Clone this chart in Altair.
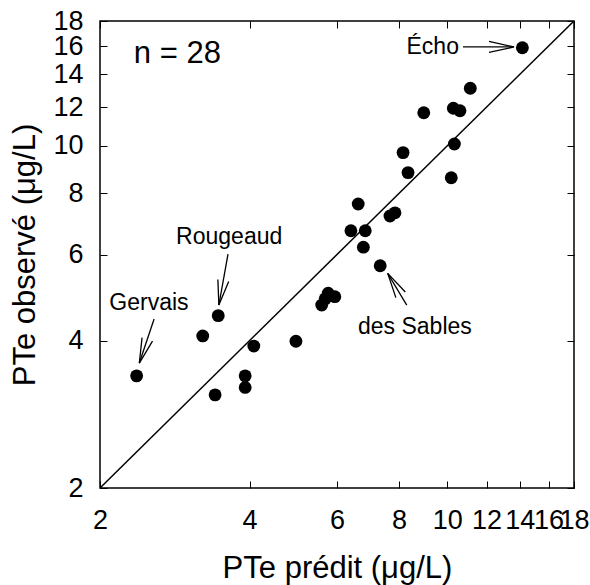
import math
import altair as alt
import pandas as pd

# ---- data ----
pred = [14.17, 11.13, 8.97, 10.29, 10.61, 10.34, 10.19, 8.15, 8.34, 6.62,
        7.67, 7.85, 6.40, 6.84, 6.78, 7.33, 5.76, 5.94, 5.59, 5.68,
        4.96, 2.37, 3.46, 3.22, 4.08, 3.92, 3.92, 3.41]
obs = [15.87, 13.12, 11.69, 11.94, 11.80, 10.09, 8.61, 9.69, 8.82, 7.61,
       7.19, 7.30, 6.71, 6.71, 6.21, 5.69, 5.00, 4.92, 4.73, 4.87,
       3.99, 3.39, 4.50, 4.09, 3.90, 3.39, 3.21, 3.10]

tick_values = [2, 4, 6, 8, 10, 12, 14, 16, 18]
diag_x = [2, 18]
diag_y = [2, 18]

ann_labels = ["Écho", "Rougeaud", "Gervais", "des Sables"]
ann_text_x = [10.56, 3.64, 2.51, 8.61]
ann_text_y = [15.93, 6.52, 4.78, 4.27]
ann_align = ["right", "center", "center", "center"]
arrow_x0 = [10.76, 3.62, 2.57, 8.29]
arrow_y0 = [15.93, 6.01, 4.43, 4.73]
arrow_x1 = [13.63, 3.47, 2.40, 7.59]
arrow_y1 = [15.93, 4.73, 3.60, 5.49]

n_label = ["n = 28"]
n_x = [2.34]
n_y = [14.79]

# ---- layout ----
W, H = 474, 467
FONT = "Liberation Sans"
LO, HI = 2, 18


def px(v):
    return W * math.log(v / LO) / math.log(HI / LO)


def py(v):
    return H * (1 - math.log(v / LO) / math.log(HI / LO))


angles = []
for a, b, c, d in zip(arrow_x0, arrow_y0, arrow_x1, arrow_y1):
    dx = px(c) - px(a)
    dy = py(d) - py(b)
    angles.append(math.degrees(math.atan2(dx, -dy)) % 360)

pts = pd.DataFrame({"pred": pred, "obs": obs})
diag = pd.DataFrame({"x": diag_x, "y": diag_y})
ann = pd.DataFrame({"label": ann_labels, "tx": ann_text_x, "ty": ann_text_y,
                    "align": ann_align})
arr = pd.DataFrame({"x0": arrow_x0, "y0": arrow_y0, "x1": arrow_x1,
                    "y1": arrow_y1, "ang": angles})
ntxt = pd.DataFrame({"t": n_label, "x": n_x, "y": n_y})

xs = alt.Scale(type="log", domain=[LO, HI], nice=False, zero=False)
ys = alt.Scale(type="log", domain=[LO, HI], nice=False, zero=False)

common_axis = dict(values=tick_values, tickSize=7, offset=-7, domain=False,
                   grid=False, tickColor="black", tickWidth=1,
                   labelColor="black", labelFont=FONT, labelFontSize=27,
                   labelOverlap=False, labelFlush=False, labelBound=False,
                   format="d", titleFont=FONT, titleFontSize=31,
                   titleFontWeight="normal", titleColor="black")

points = alt.Chart(pts).mark_point(filled=True, color="black", size=165,
                                   opacity=1).encode(
    x=alt.X("pred:Q", scale=xs,
            axis=alt.Axis(orient="bottom", labelPadding=19, titlePadding=20,
                          title="PTe prédit (μg/L)", **common_axis)),
    y=alt.Y("obs:Q", scale=ys,
            axis=alt.Axis(orient="left", labelPadding=17, titlePadding=11,
                          title="PTe observé (μg/L)", **common_axis)),
)

noaxis_top = dict(values=tick_values, tickSize=7, offset=-7, domain=False,
                  grid=False, labels=False, title=None, tickColor="black",
                  tickWidth=1)

diag_line = alt.Chart(diag).mark_line(color="black", strokeWidth=1.5,
                                      clip=True).encode(
    x=alt.X("x:Q", scale=xs, axis=alt.Axis(orient="top", **noaxis_top)),
    y=alt.Y("y:Q", scale=ys, axis=alt.Axis(orient="right", **noaxis_top)),
)


def label_layer(align):
    return alt.Chart(ann).transform_filter(
        alt.datum.align == align
    ).mark_text(font=FONT, fontSize=23, color="black", baseline="middle",
                align=align).encode(
        x=alt.X("tx:Q", scale=xs, axis=None),
        y=alt.Y("ty:Q", scale=ys, axis=None),
        text="label:N",
    )


labels_r = label_layer("right")
labels_c = label_layer("center")

shafts = alt.Chart(arr).mark_rule(color="black", strokeWidth=1.3).encode(
    x=alt.X("x0:Q", scale=xs, axis=None),
    y=alt.Y("y0:Q", scale=ys, axis=None),
    x2="x1:Q",
    y2="y1:Q",
)

heads = alt.Chart(arr).mark_point(
    shape="M -0.22 1 L 0 0 L 0.22 1", filled=False, color="black",
    strokeWidth=1.3, size=2500, opacity=1).encode(
    x=alt.X("x1:Q", scale=xs, axis=None),
    y=alt.Y("y1:Q", scale=ys, axis=None),
    angle=alt.Angle("ang:Q", scale=None),
)

ntext = alt.Chart(ntxt).mark_text(font=FONT, fontSize=31, color="black",
                                  align="left", baseline="alphabetic").encode(
    x=alt.X("x:Q", scale=xs, axis=None),
    y=alt.Y("y:Q", scale=ys, axis=None),
    text="t:N",
)

chart = alt.layer(diag_line, points, shafts, heads, labels_r, labels_c,
                  ntext).resolve_axis(
    x="independent", y="independent"
).properties(
    width=W, height=H,
    padding={"left": 100, "top": 21, "right": 16, "bottom": 97},
    autosize=alt.AutoSizeParams(type="none"),
    background="white",
).configure_view(stroke="black", strokeWidth=1.5)

chart.save("out.html", embed_options={"renderer": "svg", "actions": False})
